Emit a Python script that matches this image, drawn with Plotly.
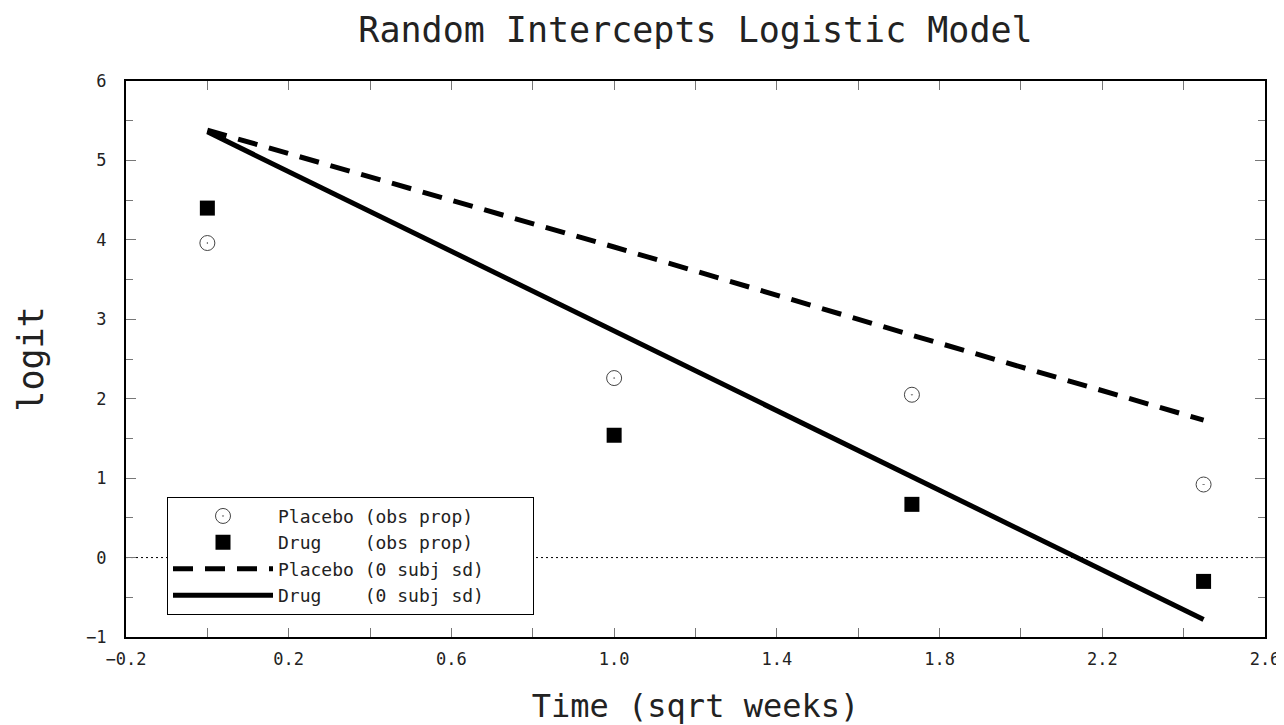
import plotly.graph_objects as go

# Time in sqrt(weeks): weeks 0, 1, 3, 6
time_sqrt = [0.0, 1.0, 1.732, 2.449]
placebo_obs = [3.96, 2.26, 2.05, 0.92]
drug_obs = [4.40, 1.54, 0.67, -0.30]
placebo_fit = [5.38, 3.91, 2.80, 1.73]
drug_fit = [5.36, 2.86, 1.03, -0.78]

x_ticks = [-0.2, 0.2, 0.6, 1.0, 1.4, 1.8, 2.2, 2.6]
y_ticks = [-1, 0, 1, 2, 3, 4, 5, 6]

FONT = "DejaVu Sans Mono"
TXT = "#222222"
NB = "\u00a0"
PAD = NB * 4

fig = go.Figure()

fig.add_trace(go.Scatter(
    x=time_sqrt, y=placebo_obs, mode="markers",
    name="Placebo" + NB + "(obs prop)" + PAD,
    marker=dict(symbol="circle-open-dot", size=15, color="#444444", line=dict(width=1)),
))
fig.add_trace(go.Scatter(
    x=time_sqrt, y=drug_obs, mode="markers",
    name="Drug" + NB * 4 + "(obs prop)" + PAD,
    marker=dict(symbol="square", size=15, color="black"),
))
fig.add_trace(go.Scatter(
    x=time_sqrt, y=placebo_fit, mode="lines",
    name="Placebo" + NB + "(0 subj sd)" + PAD,
    line=dict(color="black", width=5, dash="20px,12px"),
))
fig.add_trace(go.Scatter(
    x=time_sqrt, y=drug_fit, mode="lines",
    name="Drug" + NB * 4 + "(0 subj sd)" + PAD,
    line=dict(color="black", width=5),
))

fig.add_hline(y=0, line=dict(color="black", width=1, dash="2px,3px"), layer="below")

fig.update_layout(
    width=1276, height=717,
    margin=dict(l=118, r=19, t=73, b=88),
    paper_bgcolor="white", plot_bgcolor="white",
    font=dict(family=FONT, color=TXT, size=16),
    title=dict(text="Random Intercepts Logistic Model", x=0.5, xref="paper",
               xanchor="center", y=0.969, yanchor="middle",
               font=dict(family=FONT, size=35, color=TXT)),
    showlegend=True,
    legend=dict(
        x=0.036, y=0.04, xanchor="left", yanchor="bottom",
        bgcolor="white", bordercolor="black", borderwidth=1,
        font=dict(family=FONT, size=18, color=TXT),
        itemwidth=100, tracegroupgap=0,
        traceorder="normal",
    ),
)

fig.update_xaxes(
    range=[-0.2, 2.6], tickmode="array", tickvals=x_ticks,
    ticktext=[("\u2212" if v < 0 else "") + f"{abs(v):.1f}" for v in x_ticks],
    showgrid=False, zeroline=False, automargin=False,
    ticklabeloverflow="allow",
    showline=True, linecolor="black", linewidth=2, mirror="ticks",
    ticks="inside", ticklen=9, tickcolor="#777777", tickwidth=1,
    minor=dict(tickmode="linear", tick0=-0.2, dtick=0.2, ticks="inside",
               ticklen=9, tickcolor="#777777", tickwidth=1, showgrid=False),
    tickfont=dict(family=FONT, size=17, color=TXT),
    ticklabelstandoff=6,
    title=dict(text="Time (sqrt weeks)", font=dict(family=FONT, size=32, color=TXT), standoff=32),
)
fig.update_yaxes(
    range=[-1, 6], tickmode="array", tickvals=y_ticks,
    ticktext=[("\u2212" if v < 0 else "") + str(abs(v)) for v in y_ticks],
    showgrid=False, zeroline=False, automargin=False,
    showline=True, linecolor="black", linewidth=2, mirror="ticks",
    ticks="inside", ticklen=10, tickcolor="#777777", tickwidth=1,
    minor=dict(tickmode="linear", tick0=-1, dtick=0.5, ticks="inside",
               ticklen=7, tickcolor="#777777", tickwidth=1, showgrid=False),
    tickfont=dict(family=FONT, size=17, color=TXT),
    ticklabelstandoff=14,
    title=dict(text="logit", font=dict(family=FONT, size=35, color=TXT), standoff=32),
)

fig.write_html("out.html")
